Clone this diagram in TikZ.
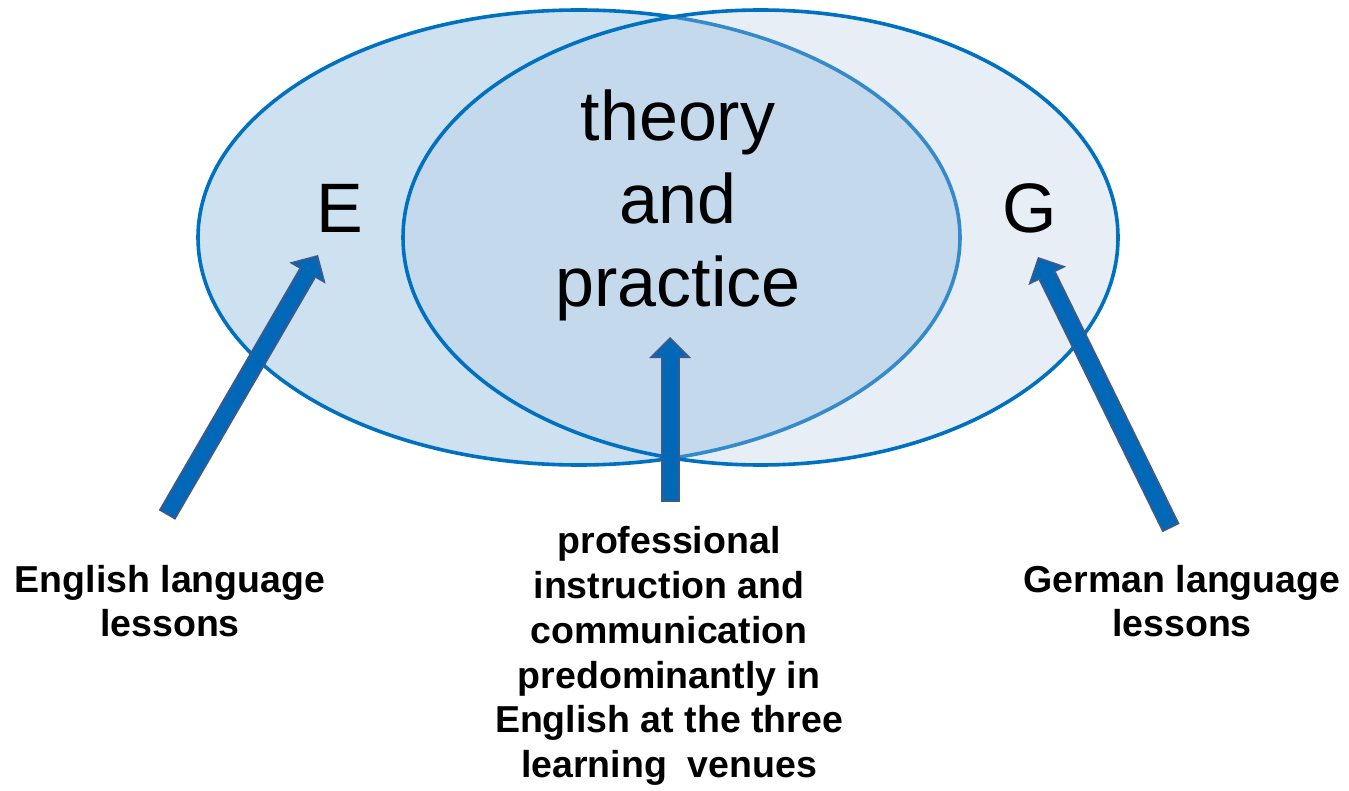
\documentclass[tikz,border=0pt]{standalone}
\usepackage{fontspec}
\setmainfont{Liberation Sans}
\usepackage{xcolor}
\usepackage{tikz}
\usetikzlibrary{shapes.geometric, arrows.meta}

\definecolor{rimblue}{RGB}{0,112,192}
\definecolor{leftfill}{RGB}{205,225,241}
\definecolor{rightfill}{RGB}{176,199,226}
\definecolor{arrowblue}{RGB}{0,104,182}
\definecolor{arrowedge}{RGB}{58,90,140}

\begin{document}
\begin{tikzpicture}[
    x=0.5pt, y=-0.5pt,
    venn/.style={ellipse, draw=rimblue, line width=1.8pt, inner sep=0pt, outer sep=0pt},
    letter/.style={font=\fontsize{35pt}{41.5pt}\selectfont},
    bigtext/.style={align=center, font=\fontsize{35pt}{41.5pt}\selectfont},
    label/.style={align=center, font=\bfseries\fontsize{18.75pt}{22.4pt}\selectfont},
    arrowrim/.style={draw=arrowedge, line width=9.5pt,
        -{Triangle[length=10.5pt, width=21pt, line width=0pt]}},
    arrowcore/.style={draw=arrowblue, line width=7.5pt,
        shorten >=1.41pt, shorten <=1pt,
        -{Triangle[length=8.1pt, width=16.2pt, line width=0pt]}}
]
    \useasboundingbox (0,0) rectangle (1349,791);

    % --- 1. Ellipses ---
    \node[venn, fill=leftfill, minimum width=381pt, minimum height=227.5pt] (eng) at (579,237.5) {};
    \node[venn, fill=rightfill, fill opacity=0.3, minimum width=357.5pt, minimum height=227.5pt] (ger) at (760.5,237.5) {};

    % --- 2. Texts inside ---
    \node[letter] (eletter) at (340,208) {E};
    \node[letter] (gletter) at (1030,208) {G};
    \node[bigtext] (theory) at (678,205) {theory\\and\\practice};

    % --- 3. Labels below ---
    \node[label] (englab) at (170,601) {English language\\lessons};
    \node[label] (midlab) at (669,656) {professional\\instruction and\\communication\\predominantly in\\English at the three\\learning\ \ venues};
    \node[label] (gerlab) at (1182,601) {German language\\lessons};

    % --- 4. Arrows ---
    \coordinate (etail) at (167,515);
    \coordinate (ehead) at (318,255);
    \coordinate (mtail) at (670,502);
    \coordinate (mhead) at (670,337);
    \coordinate (gtail) at (1171,528);
    \coordinate (ghead) at (1038,257);

    \foreach \t/\h in {etail/ehead, mtail/mhead, gtail/ghead}{
        \draw[arrowrim] (\t) -- (\h);
        \draw[arrowcore] (\t) -- (\h);
    }

\end{tikzpicture}
\end{document}
